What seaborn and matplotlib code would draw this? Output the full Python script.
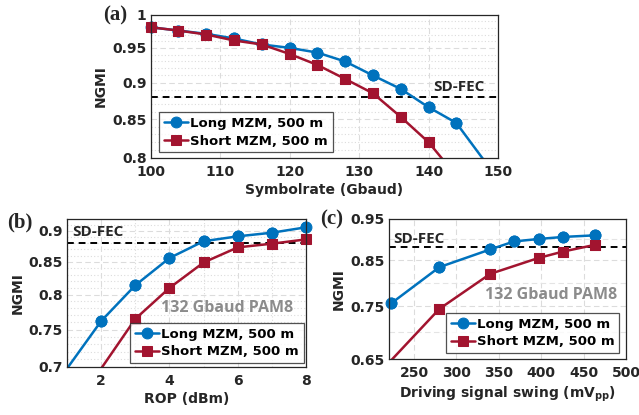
import numpy as np
import pandas as pd
import matplotlib
matplotlib.use("Agg")
import matplotlib.pyplot as plt
from matplotlib.ticker import FixedLocator, FixedFormatter, NullFormatter
import seaborn as sns

# ---------------- data ----------------
# (a) NGMI vs symbol rate
sr_x = [100, 104, 108, 112, 116, 120, 124, 128, 132, 136, 140, 144, 148]
sr_long = [0.981, 0.976, 0.971, 0.964, 0.955, 0.950, 0.943, 0.930, 0.910, 0.891, 0.866, 0.845, 0.797]
sr_short_x = [100, 104, 108, 112, 116, 120, 124, 128, 132, 136, 140, 144]
sr_short = [0.981, 0.976, 0.970, 0.961, 0.955, 0.941, 0.925, 0.905, 0.885, 0.853, 0.820, 0.778]

# (b) NGMI vs ROP
rop_long_x = [1, 2, 3, 4, 5, 6, 7, 8]
rop_long = [0.698, 0.762, 0.814, 0.856, 0.883, 0.891, 0.897, 0.906]
rop_short_x = [2, 3, 4, 5, 6, 7, 8]
rop_short = [0.698, 0.765, 0.810, 0.849, 0.873, 0.879, 0.886]

# (c) NGMI vs driving signal swing
sw_long_x = [223, 280, 340, 368, 397, 426, 464]
sw_long = [0.756, 0.834, 0.875, 0.894, 0.900, 0.905, 0.909]
sw_short_x = [223, 280, 340, 397, 426, 464]
sw_short = [0.648, 0.745, 0.819, 0.855, 0.870, 0.886]

labels = ["Long MZM, 500 m", "Short MZM, 500 m"]
fec = 0.88

# ---------------- style ----------------
sns.set_style("white")
plt.rcParams["font.family"] = ["DejaVu Sans"]
plt.rcParams["font.weight"] = "bold"

BLUE = "#0072BD"
RED = "#A2142F"
INK = "#262626"

fig = plt.figure(figsize=(6.39, 4.15), dpi=100)
ax_a = fig.add_axes([0.2358, 0.6193, 0.5435, 0.3446])
ax_b = fig.add_axes([0.1049, 0.1157, 0.3740, 0.3566])
ax_c = fig.add_axes([0.6080, 0.1342, 0.3715, 0.3381])

TICK_FS = 10
LEG_FS = 9.5
NOTE = ["Open Sans", "DejaVu Sans"]


def draw(ax, xs, ys, ylim):
    colors = [BLUE, RED]
    mk = ["o", "s"]
    ms = [7.8, 6.8]
    for i in range(2):
        x = np.array(xs[i]); y = np.array(ys[i])
        df = pd.DataFrame({"x": x, "y": y})
        inside = df[(df.y >= ylim[0]) & (df.y <= ylim[1])]
        # clipped line (with legend entry)
        sns.lineplot(data=df, x="x", y="y", ax=ax, color=colors[i], lw=1.8,
                     marker=mk[i], markersize=ms[i], markeredgecolor=colors[i],
                     markevery=list(inside.index), label=labels[i], sort=False,
                     estimator=None)
        # markers on top, not clipped at the box edge
        sns.lineplot(data=inside, x="x", y="y", ax=ax, color=colors[i], lw=0,
                     marker=mk[i], markersize=ms[i], markeredgecolor=colors[i],
                     sort=False, estimator=None, clip_on=False, label="_nolegend_")
    ax.axhline(fec, color="black", ls=(0, (3.5, 2.5)), lw=1.4, zorder=1.5)


def style(ax, xlim, xticks, ylim, yt_major, yt_labels, yt_minor):
    ax.set_yscale("log")
    ax.set_xlim(*xlim)
    ax.set_ylim(*ylim)
    ax.set_xticks(xticks)
    ax.set_xticklabels([str(t) for t in xticks], fontsize=TICK_FS, fontweight="bold", color=INK)
    ax.yaxis.set_major_locator(FixedLocator(yt_major))
    ax.yaxis.set_major_formatter(FixedFormatter(yt_labels))
    ax.yaxis.set_minor_locator(FixedLocator(yt_minor))
    ax.yaxis.set_minor_formatter(NullFormatter())
    for lab in ax.get_yticklabels():
        lab.set_fontsize(TICK_FS); lab.set_fontweight("bold"); lab.set_color(INK)
    ax.tick_params(axis="both", which="both", direction="in", length=3, width=0.8, color=INK)
    ax.tick_params(axis="both", which="minor", length=1.8)
    ax.tick_params(axis="x", pad=5)
    ax.tick_params(axis="y", pad=3)
    ax.grid(True, which="major", ls=(0, (5, 3)), color="#dcdcdc", lw=0.8)
    ax.grid(True, which="minor", axis="y", ls=(0, (1, 2)), color="#dcdcdc", lw=0.8)
    for s in ax.spines.values():
        s.set_visible(True); s.set_color(INK); s.set_linewidth(0.9)
    ax.set_ylabel("NGMI", fontsize=TICK_FS, fontweight="bold", color=INK, labelpad=3)


def legend(ax, loc, anchor):
    leg = ax.legend(loc=loc, bbox_to_anchor=anchor, frameon=True, fancybox=False,
                    edgecolor=INK, fontsize=LEG_FS, handlelength=1.8, borderpad=0.35,
                    labelspacing=0.35, handletextpad=0.2, borderaxespad=0)
    leg.get_frame().set_linewidth(0.9)
    for t in leg.get_texts():
        t.set_fontweight("bold")
        t.set_color("black")
    leg.set_zorder(5)


# ----- (a)
draw(ax_a, [sr_x, sr_short_x], [sr_long, sr_short], (0.8, 1.0))
style(ax_a, (100, 150), [100, 110, 120, 130, 140, 150], (0.8, 1.0),
      [0.8, 0.85, 0.9, 0.95, 1.0], ["0.8", "0.85", "0.9", "0.95", "1"],
      [round(v, 2) for v in np.arange(0.81, 1.0, 0.01)])
ax_a.set_xlabel("Symbolrate (Gbaud)", fontsize=TICK_FS, fontweight="bold", color=INK, labelpad=3)
ax_a.text(0.963, 0.894, "SD-FEC", transform=ax_a.get_yaxis_transform(), ha="right", va="center",
          fontsize=11, fontweight="bold", family=NOTE)
legend(ax_a, "lower left", (0.025, 0.04))

# ----- (b)
draw(ax_b, [rop_long_x, rop_short_x], [rop_long, rop_short], (0.7, 0.92))
style(ax_b, (1, 8), [2, 4, 6, 8], (0.7, 0.92),
      [0.7, 0.75, 0.8, 0.85, 0.9], ["0.7", "0.75", "0.8", "0.85", "0.9"],
      [round(v, 2) for v in np.arange(0.71, 0.92, 0.01)])
ax_b.xaxis.set_minor_locator(FixedLocator([1, 3, 5, 7]))
ax_b.grid(True, which="minor", axis="x", ls=(0, (1, 2)), color="#dcdcdc", lw=0.8)
ax_b.set_xlabel("ROP (dBm)", fontsize=TICK_FS, fontweight="bold", color=INK, labelpad=3)
ax_b.text(0.02, 0.898, "SD-FEC", transform=ax_b.get_yaxis_transform(), ha="left", va="center",
          fontsize=11, fontweight="bold", family=NOTE)
ax_b.text(0.946, 0.40, "132 Gbaud PAM8", transform=ax_b.transAxes, ha="right", va="center",
          fontsize=11.5, fontweight="bold", color="#8c8c8c", family=NOTE)
legend(ax_b, "lower right", (0.99, 0.027))

# ----- (c)
draw(ax_c, [sw_long_x, sw_short_x], [sw_long, sw_short], (0.65, 0.95))
style(ax_c, (220, 500), [250, 300, 350, 400, 450, 500], (0.65, 0.95),
      [0.65, 0.75, 0.85, 0.95], ["0.65", "0.75", "0.85", "0.95"],
      [0.7, 0.8, 0.9])
ax_c.grid(True, which="minor", axis="y", ls=(0, (5, 3)), color="#e4e4e4", lw=0.8)
ax_c.set_xlabel("Driving signal swing (mV$_{\\mathbf{pp}}$)", fontsize=TICK_FS, fontweight="bold",
                color=INK, labelpad=3)
ax_c.text(0.019, 0.899, "SD-FEC", transform=ax_c.get_yaxis_transform(), ha="left", va="center",
          fontsize=11, fontweight="bold", family=NOTE)
ax_c.text(0.961, 0.458, "132 Gbaud PAM8", transform=ax_c.transAxes, ha="right", va="center",
          fontsize=11.5, fontweight="bold", color="#8c8c8c", family=NOTE)
legend(ax_c, "lower right", (0.973, 0.045))

# panel labels
for (px, py, s) in [(103, 15, "(a)"), (7, 222, "(b)"), (320, 219, "(c)")]:
    fig.text(px / 639, 1 - py / 415, s, fontsize=15, fontweight="bold",
             family=["Liberation Serif"], ha="left", va="center")

fig.savefig("out.png", dpi=100)
